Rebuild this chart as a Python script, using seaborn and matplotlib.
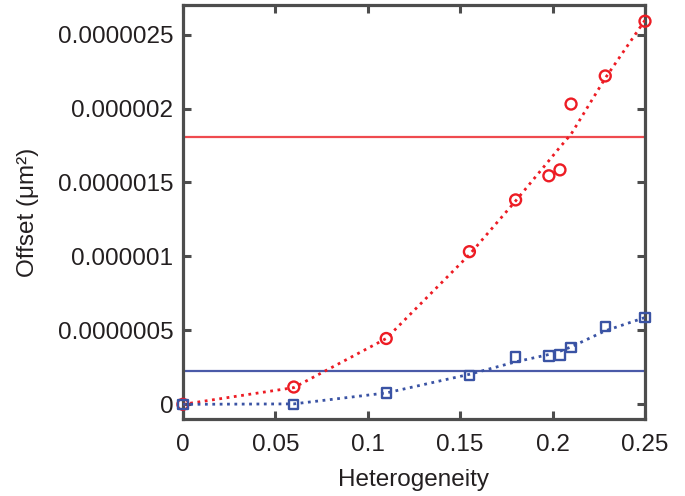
import matplotlib
matplotlib.use("Agg")
import matplotlib.pyplot as plt
import seaborn as sns
import numpy as np
import pandas as pd
from matplotlib.ticker import FixedLocator, FixedFormatter

# Data
heterogeneity = [0.0, 0.06, 0.11, 0.155, 0.18, 0.198, 0.204, 0.21, 0.2285, 0.25]
offset_red = [0.0, 0.117e-6, 0.445e-6, 1.032e-6, 1.382e-6, 1.545e-6, 1.585e-6, 2.03e-6, 2.22e-6, 2.59e-6]
offset_blue = [0.0, 0.0, 0.077e-6, 0.196e-6, 0.32e-6, 0.327e-6, 0.334e-6, 0.384e-6, 0.524e-6, 0.585e-6]
# fitted curves (dotted), read at the same heterogeneity values
fit_red = [0.0, 0.113e-6, 0.445e-6, 1.012e-6, 1.375e-6, 1.647e-6, 1.739e-6, 1.826e-6, 2.205e-6, 2.597e-6]
fit_blue = [0.0, 0.003e-6, 0.077e-6, 0.203e-6, 0.287e-6, 0.337e-6, 0.359e-6, 0.388e-6, 0.497e-6, 0.587e-6]
level_red = 1.807e-6
level_blue = 0.2236e-6

x_ticks = [0, 0.05, 0.1, 0.15, 0.2, 0.25]
x_tick_labels = ["0", "0.05", "0.1", "0.15", "0.2", "0.25"]
y_ticks = [0, 0.5e-6, 1.0e-6, 1.5e-6, 2.0e-6, 2.5e-6]
y_tick_labels = ["0", "0.0000005", "0.000001", "0.0000015", "0.000002", "0.0000025"]

RED = "#ED1C24"
RED_LINE = "#EF4A4F"
BLUE = "#3A53A4"
BLUE_LINE = "#4A5AA8"
AXC = "#4D4D4D"
TXT = "#231F20"

sns.set_style("white")
plt.rcParams["font.family"] = ["Liberation Sans", "DejaVu Sans"]

df = pd.DataFrame({"h": heterogeneity, "red": offset_red, "blue": offset_blue,
                   "fit_red": fit_red, "fit_blue": fit_blue})

fig = plt.figure(figsize=(6.85, 4.96), dpi=100)
ax = fig.add_axes([0.267, 0.155, 0.9416 - 0.267, 0.990 - 0.155])

# fitted curves
sns.lineplot(data=df, x="h", y="fit_red", estimator=None, sort=False, ax=ax,
             color=RED, ls=":", lw=2.0, zorder=3)
sns.lineplot(data=df, x="h", y="fit_blue", estimator=None, sort=False, ax=ax,
             color=BLUE, ls=":", lw=2.0, zorder=3)

ax.axhline(level_red, color=RED_LINE, lw=1.6, zorder=2)
ax.axhline(level_blue, color=BLUE_LINE, lw=1.6, zorder=2)

sns.scatterplot(data=df, x="h", y="red", marker="o", s=62, facecolors="none",
                edgecolor=RED, linewidth=1.7, ax=ax, zorder=4, clip_on=False)
sns.scatterplot(data=df, x="h", y="blue", marker="s", s=45, facecolors="none",
                edgecolor=BLUE, linewidth=1.7, ax=ax, zorder=5, clip_on=False)

ax.set_xlim(0, 0.25)
ax.set_ylim(-1.0e-7, 2.70e-6)

ax.xaxis.set_major_locator(FixedLocator(x_ticks))
ax.xaxis.set_major_formatter(FixedFormatter(x_tick_labels))
ax.yaxis.set_major_locator(FixedLocator(y_ticks))
ax.yaxis.set_major_formatter(FixedFormatter(y_tick_labels))

for s in ax.spines.values():
    s.set_visible(True)
    s.set_color(AXC)
    s.set_linewidth(2.3)

ax.tick_params(axis="both", direction="in", length=6, width=2.2, color=AXC,
               labelsize=17.5, labelcolor=TXT, top=True, right=True,
               bottom=True, left=True)
ax.tick_params(axis="y", pad=7)
ax.tick_params(axis="x", pad=11)

ax.set_xlabel("Heterogeneity", fontsize=17.5, color=TXT, labelpad=9)
ax.set_ylabel("Offset (μm²)", fontsize=17.5, color=TXT, labelpad=13)

fig.savefig("out.png", dpi=100)
